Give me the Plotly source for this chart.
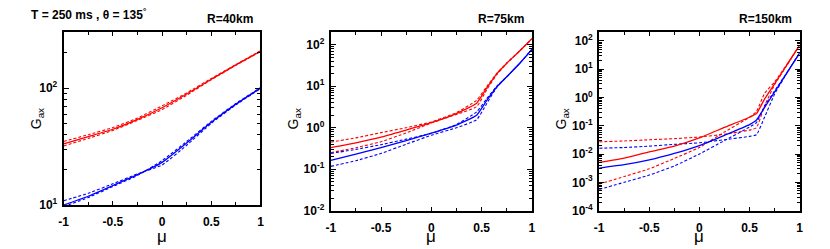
import plotly.graph_objects as go

# ---------------- data ----------------
mu1 = [-1, -0.75, -0.5, -0.25, 0, 0.25, 0.5, 0.75, 1]
p1_red_solid = [33.3, 38.5, 44.5, 54, 68, 89, 119, 158, 207]
p1_red_dashA = [35, 40, 46, 55.5, 70.5, 91, 121, 159, 209]
p1_red_dashB = [32, 37.2, 43.5, 53, 65.5, 87, 118, 157, 205]
p1_blue_solid = [10, 11.9, 14.7, 18.2, 23.2, 34, 51, 73, 100]
p1_blue_dashA = [10.9, 12.6, 15.2, 18.5, 22, 32.5, 50, 72, 99]
p1_blue_dashB = [9.7, 11.6, 14.4, 17.9, 24, 35, 52, 74, 101]

mu2 = [-1, -0.75, -0.5, -0.25, 0, 0.25, 0.45, 0.55, 0.65, 0.75, 0.875, 1]
p2_red_solid = [0.33, 0.43, 0.59, 0.88, 1.33, 2.2, 3.9, 9, 20, 36, 70, 140]
p2_red_dashA = [0.45, 0.57, 0.76, 1.0, 1.38, 2.3, 4.6, 9.8, 20.5, 36, 70, 140]
p2_red_dashB = [0.25, 0.33, 0.46, 0.75, 1.3, 2.1, 3.2, 8.2, 19, 36, 70, 140]
p2_blue_solid = [0.164, 0.23, 0.33, 0.49, 0.74, 1.16, 2.0, 4.5, 9.6, 17, 35, 78]
p2_blue_dashA = [0.24, 0.3, 0.39, 0.53, 0.73, 1.2, 2.4, 5.0, 10, 17, 35, 78]
p2_blue_dashB = [0.117, 0.16, 0.24, 0.4, 0.66, 1.0, 1.55, 3.8, 9.4, 17, 35, 78]

mu3 = [-1, -0.75, -0.5, -0.25, 0, 0.25, 0.5, 0.57, 0.65, 0.75, 0.875, 1]
p3_red_solid = [0.0051, 0.0072, 0.012, 0.019, 0.037, 0.087, 0.2, 0.27, 0.87, 3.0, 14.5, 70]
p3_red_dashA = [0.027, 0.029, 0.032, 0.035, 0.04, 0.05, 0.07, 0.085, 0.5, 2.8, 14, 70]
p3_red_dashB = [0.00087, 0.0016, 0.003, 0.007, 0.017, 0.06, 0.2, 0.32, 1.4, 3.5, 15, 70]
p3_blue_solid = [0.0032, 0.0042, 0.0062, 0.0105, 0.02, 0.046, 0.11, 0.16, 0.44, 1.55, 7.6, 37]
p3_blue_dashA = [0.016, 0.017, 0.019, 0.022, 0.025, 0.032, 0.042, 0.048, 0.2, 1.3, 7.5, 37]
p3_blue_dashB = [0.00056, 0.001, 0.0018, 0.0038, 0.01, 0.03, 0.09, 0.13, 0.5, 1.7, 7.7, 37]

x_ticks = [-1, -0.5, 0, 0.5, 1]
x_tick_text = ["-1", "-0.5", "0", "0.5", "1"]

panels = [
    dict(mu=mu1, rs=p1_red_solid, ra=p1_red_dashA, rb=p1_red_dashB,
         bs=p1_blue_solid, ba=p1_blue_dashA, bb=p1_blue_dashB,
         yexp=[1, 2], yr=[1, 2.477], label="R=40km"),
    dict(mu=mu2, rs=p2_red_solid, ra=p2_red_dashA, rb=p2_red_dashB,
         bs=p2_blue_solid, ba=p2_blue_dashA, bb=p2_blue_dashB,
         yexp=[-2, -1, 0, 1, 2], yr=[-2, 2.301], label="R=75km"),
    dict(mu=mu3, rs=p3_red_solid, ra=p3_red_dashA, rb=p3_red_dashB,
         bs=p3_blue_solid, ba=p3_blue_dashA, bb=p3_blue_dashB,
         yexp=[-4, -3, -2, -1, 0, 1, 2], yr=[-4, 2.301], label="R=150km"),
]

W, H = 830, 249
# panel pixel frames: (left, right, top, bottom)
frames = [(59.3, 258.3, 33.3, 211.0), (329.3, 532.7, 33.3, 216.7), (600.7, 803.3, 33.3, 216.7)]
ytitle_x = [32, 292, 563]

fig = go.Figure()
FONT = "Liberation Sans, Arial, sans-serif"
RED, BLUE = "#ff0000", "#0000ff"

for i, (p, fr) in enumerate(zip(panels, frames)):
    n = "" if i == 0 else str(i + 1)
    xa, ya = "x" + n, "y" + n
    for ys, col, dash, w in [(p["ra"], RED, "3px,2px", 1.1), (p["rb"], RED, "3px,2px", 1.1),
                             (p["ba"], BLUE, "3px,2px", 1.1), (p["bb"], BLUE, "3px,2px", 1.1),
                             (p["rs"], RED, "solid", 1.3), (p["bs"], BLUE, "solid", 1.3)]:
        fig.add_trace(go.Scatter(x=p["mu"], y=ys, mode="lines", xaxis=xa, yaxis=ya,
                                 line=dict(color=col, dash=dash, width=w, shape="spline", smoothing=0.4),
                                 showlegend=False, hoverinfo="skip"))
    l, r, t, b = fr
    axcommon = dict(showline=True, linecolor="black", linewidth=2, mirror="allticks",
                    ticks="inside", tickcolor="black", showgrid=False, zeroline=False,
                    tickfont=dict(family=FONT, size=12, color="black"))
    fig.layout["xaxis" + n] = dict(
        domain=[l / W, r / W], anchor=ya, range=[-1, 1],
        tickvals=x_ticks, ticktext=["<b>%s</b>" % s for s in x_tick_text],
        ticklen=4, ticklabelstandoff=5,
        minor=dict(tickvals=[-0.75, -0.25, 0.25, 0.75], ticks="inside", ticklen=3, tickcolor="black"),
        **axcommon)
    fig.layout["yaxis" + n] = dict(
        domain=[(H - b) / H, (H - t) / H], anchor=xa, type="log", range=p["yr"],
        tickvals=[10 ** e for e in p["yexp"]],
        ticktext=["<b>10<sup>%d</sup></b>" % e for e in p["yexp"]],
        ticklen=5, ticklabelstandoff=2,
        minor=dict(ticks="inside", ticklen=3, tickcolor="black", dtick="D1"),
        **axcommon)
    fig.add_annotation(xref="paper", yref="paper", x=(r - 6) / W, y=(H - 20) / H,
                       text="<b>%s</b>" % p["label"], showarrow=False,
                       xanchor="right", yanchor="middle",
                       font=dict(family=FONT, size=12, color="black"))
    fig.add_annotation(xref="paper", yref="paper", x=ytitle_x[i] / W, y=(H - 122) / H,
                       text="G<sub>ax</sub>", showarrow=False, textangle=-90,
                       xanchor="center", yanchor="middle",
                       font=dict(family=FONT, size=14, color="black"))
    fig.add_annotation(xref="paper", yref="paper", x=((l + r) / 2) / W, y=(H - 243) / H,
                       text="μ", showarrow=False, xanchor="center", yanchor="middle",
                       font=dict(family=FONT, size=17, color="black"))

fig.add_annotation(xref="paper", yref="paper", x=24 / W, y=(H - 14) / H,
                   text="<b>T = 250 ms , θ = 135<sup>°</sup></b>", showarrow=False,
                   xanchor="left", yanchor="middle",
                   font=dict(family=FONT, size=12, color="black"))

fig.update_layout(width=W, height=H, margin=dict(l=0, r=0, t=0, b=0),
                  plot_bgcolor="white", paper_bgcolor="white")
fig.write_html("out.html", config={"displayModeBar": False},
               post_script="document.body.style.margin='0px';")
